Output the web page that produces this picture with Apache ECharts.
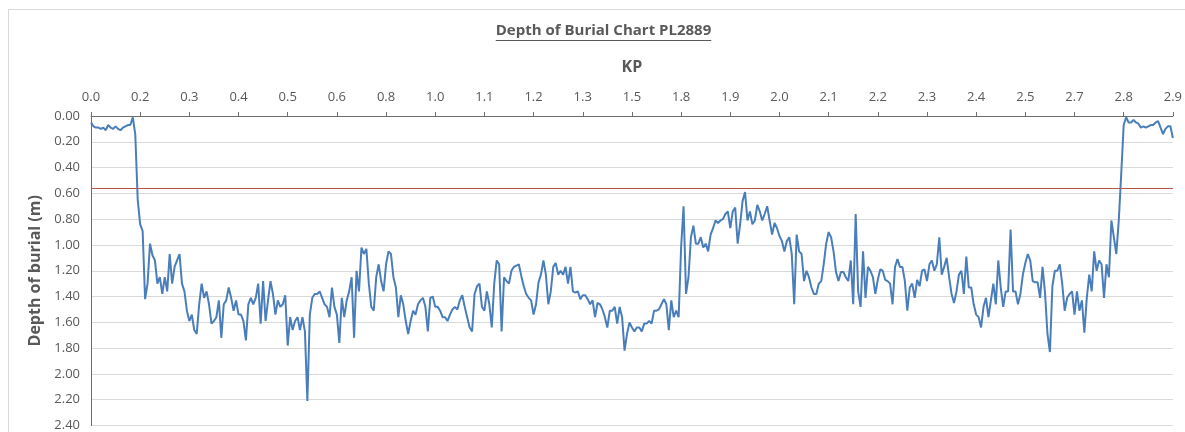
<!DOCTYPE html>
<html>
<head>
<meta charset="utf-8">
<script src="https://cdn.jsdelivr.net/npm/echarts@6/dist/echarts.min.js"></script>
<style>html,body{margin:0;padding:0;background:#fff;}#chart{width:1185px;height:432px;}</style>
</head>
<body>
<div id="chart"></div>
<script>
// KP tick labels shown along the top axis (one every 20 samples)
const tickLabels = ['0.0','0.2','0.3','0.4','0.5','0.6','0.8','1.0','1.1','1.2','1.3','1.5','1.8','1.9','2.0','2.1','2.2','2.3','2.4','2.5','2.7','2.8','2.9'];
const samplesPerTick = 20;
// Depth of burial (m)
const depth = [
0.05,0.08,0.09,0.09,0.10,0.09,0.11,0.07,0.09,0.10,0.08,0.10,0.11,0.09,0.08,0.07,0.07,0.01,0.14,0.65,
0.84,0.89,1.42,1.30,0.99,1.08,1.12,1.30,1.25,1.38,1.25,1.36,1.07,1.30,1.17,1.12,1.07,1.30,1.36,1.51,
1.59,1.54,1.66,1.69,1.46,1.30,1.41,1.36,1.46,1.61,1.59,1.56,1.43,1.72,1.46,1.43,1.33,1.41,1.51,1.43,
1.54,1.54,1.59,1.74,1.46,1.41,1.46,1.41,1.30,1.61,1.28,1.59,1.43,1.28,1.38,1.54,1.43,1.48,1.46,1.39,
1.78,1.56,1.66,1.59,1.56,1.66,1.56,1.67,2.21,1.54,1.41,1.38,1.38,1.36,1.41,1.46,1.48,1.56,1.33,1.48,
1.54,1.76,1.41,1.56,1.43,1.36,1.25,1.72,1.20,1.36,1.02,1.07,1.03,1.30,1.48,1.51,1.25,1.15,1.28,1.36,
1.15,1.05,1.07,1.25,1.33,1.56,1.39,1.46,1.59,1.69,1.59,1.51,1.54,1.46,1.43,1.41,1.48,1.67,1.41,1.40,
1.48,1.48,1.51,1.56,1.56,1.59,1.54,1.50,1.48,1.50,1.43,1.39,1.48,1.56,1.64,1.67,1.38,1.32,1.30,1.48,
1.51,1.36,1.46,1.64,1.30,1.12,1.15,1.67,1.25,1.28,1.30,1.20,1.17,1.16,1.15,1.24,1.32,1.38,1.41,1.43,
1.54,1.46,1.29,1.23,1.12,1.23,1.46,1.36,1.17,1.14,1.23,1.20,1.23,1.17,1.30,1.17,1.36,1.37,1.36,1.42,
1.39,1.39,1.42,1.46,1.43,1.56,1.45,1.46,1.50,1.56,1.64,1.51,1.51,1.48,1.61,1.48,1.56,1.82,1.69,1.60,
1.64,1.67,1.64,1.64,1.67,1.61,1.61,1.59,1.61,1.51,1.51,1.50,1.46,1.42,1.46,1.66,1.43,1.56,1.51,1.56,
1.02,0.70,1.38,1.25,0.94,0.85,0.99,0.99,0.94,1.02,0.99,1.05,0.92,0.87,0.81,0.83,0.81,0.80,0.76,0.74,
0.87,0.74,0.71,0.99,0.84,0.66,0.59,0.81,0.74,0.84,0.81,0.69,0.74,0.81,0.76,0.70,0.81,0.92,0.83,0.87,
0.93,0.97,1.05,0.97,0.94,1.07,1.46,0.92,1.05,1.07,1.28,1.20,1.25,1.33,1.38,1.38,1.30,1.28,1.15,0.99,
0.90,0.94,1.05,1.21,1.28,1.21,1.21,1.25,1.28,1.12,1.46,0.76,1.36,1.48,1.05,1.41,1.17,1.20,1.25,1.38,
1.27,1.19,1.20,1.27,1.28,1.30,1.46,1.17,1.11,1.17,1.17,1.28,1.51,1.33,1.30,1.41,1.27,1.32,1.20,1.19,
1.28,1.15,1.12,1.20,1.15,0.94,1.23,1.17,1.10,1.25,1.38,1.45,1.36,1.23,1.20,1.38,1.09,1.33,1.33,1.46,
1.54,1.56,1.64,1.48,1.41,1.56,1.43,1.30,1.46,1.12,1.33,1.48,1.36,1.36,0.88,1.36,1.36,1.46,1.38,1.23,
1.14,1.07,1.12,1.28,1.29,1.29,1.41,1.17,1.37,1.69,1.83,1.32,1.20,1.20,1.15,1.30,1.51,1.41,1.38,1.36,
1.54,1.36,1.51,1.43,1.68,1.41,1.23,1.36,1.05,1.20,1.12,1.15,1.41,1.15,1.25,0.81,0.94,1.07,0.81,0.45,
0.07,0.01,0.05,0.05,0.03,0.05,0.06,0.09,0.08,0.09,0.08,0.07,0.07,0.05,0.04,0.09,0.14,0.10,0.08,0.08,0.17
];
const categories = depth.map((_, i) => String(i));
const referenceDepth = 0.56;
const chartTitle = 'Depth of Burial Chart PL2889';

const chart = echarts.init(document.getElementById('chart'), null, {renderer: 'canvas'});
const titleFont = 'bold 15px "Open Sans"';
const ctx = document.createElement('canvas').getContext('2d');
ctx.font = titleFont;
const tw = ctx.measureText(chartTitle).width;
const tcx = 603.5;

chart.setOption({
  animation: false,
  backgroundColor: '#ffffff',
  grid: {left: 91, right: 10, top: 116, bottom: 6, containLabel: false},
  graphic: [
    {type: 'rect', shape: {x: 8.5, y: 9.5, width: 1200, height: 440}, style: {fill: 'none', stroke: '#d9d9d9', lineWidth: 1}, silent: true},
    {type: 'text', x: tcx, y: 31, style: {text: chartTitle, font: titleFont, fill: '#595959', textAlign: 'center', textVerticalAlign: 'middle'}},
    {type: 'line', shape: {x1: tcx - tw / 2, y1: 40.5, x2: tcx + tw / 2, y2: 40.5}, style: {stroke: '#595959', lineWidth: 1.2}}
  ],
  xAxis: {
    type: 'category',
    position: 'top',
    data: categories,
    boundaryGap: false,
    name: 'KP',
    nameLocation: 'middle',
    nameGap: 41,
    nameTextStyle: {fontFamily: 'Open Sans', fontSize: 16, fontWeight: 'bold', color: '#595959'},
    axisLine: {lineStyle: {color: '#6e6e6e', width: 1}},
    axisTick: {show: true, interval: samplesPerTick - 1, length: 4, lineStyle: {color: '#6e6e6e'}},
    axisLabel: {
      interval: samplesPerTick - 1,
      margin: 12,
      fontFamily: 'Open Sans', fontSize: 13, color: '#595959',
      formatter: (v, idx) => tickLabels[Math.round(idx / samplesPerTick)] || ''
    },
    splitLine: {show: false}
  },
  yAxis: {
    type: 'value',
    inverse: true,
    min: 0, max: 2.4, interval: 0.2,
    name: 'Depth of burial (m)',
    nameLocation: 'middle',
    nameRotate: 90,
    nameGap: 43,
    nameTextStyle: {fontFamily: 'Open Sans', fontSize: 16, fontWeight: 'bold', color: '#595959'},
    axisLine: {show: true, lineStyle: {color: '#6e6e6e', width: 1}},
    axisTick: {show: false},
    axisLabel: {margin: 11, fontFamily: 'Open Sans', fontSize: 13, color: '#595959', formatter: v => v.toFixed(2)},
    splitLine: {show: true, lineStyle: {color: '#d9d9d9', width: 1}}
  },
  series: [{
    type: 'line',
    data: depth,
    showSymbol: false,
    symbol: 'none',
    lineStyle: {color: '#4a7ebb', width: 2},
    markLine: {
      silent: true,
      symbol: 'none',
      label: {show: false},
      lineStyle: {color: '#b5554f', width: 1.2, type: 'solid', opacity: 1},
      data: [{yAxis: referenceDepth}]
    }
  }]
});
</script>
</body>
</html>
